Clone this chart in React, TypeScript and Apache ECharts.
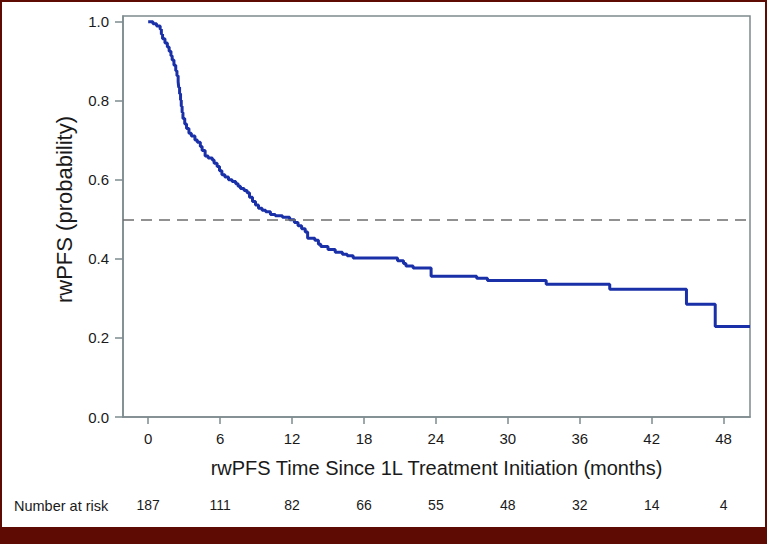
import React, { useEffect, useRef } from "react";
import * as echarts from "echarts";

// Kaplan-Meier step data (months, survival probability)
const months = [
  0, 0.4, 0.7, 1.0, 1.1, 1.2, 1.4, 1.6, 1.75, 1.9, 2.0, 2.15, 2.3, 2.4, 2.5, 2.55, 2.62, 2.7, 2.76, 2.83,
  2.9, 3.05, 3.2, 3.4, 3.6, 3.9, 4.1, 4.35, 4.5, 4.75, 5.0, 5.35, 5.5, 5.75, 5.95, 6.15, 6.4, 6.7, 7.0,
  7.3, 7.5, 7.7, 8.0, 8.25, 8.45, 8.7, 8.95, 9.2, 9.5, 9.8, 10.2, 10.6, 11.2, 11.8, 12.2, 12.5, 12.8,
  13.1, 13.3, 13.9, 14.2, 14.4, 15.0, 15.6, 16.2, 16.6, 17.1, 20.8, 21.3, 21.5, 22.1, 23.6, 27.4, 28.3,
  33.2, 38.5, 44.9, 47.3, 50.2,
];
const survival = [
  1.0, 0.995, 0.989, 0.981, 0.968, 0.957, 0.946, 0.936, 0.925, 0.914, 0.903, 0.89, 0.876, 0.863, 0.848,
  0.834, 0.818, 0.802, 0.786, 0.77, 0.755, 0.741, 0.73, 0.718, 0.711, 0.701, 0.695, 0.684, 0.674, 0.66,
  0.655, 0.65, 0.642, 0.634, 0.623, 0.613, 0.607, 0.6, 0.596, 0.59, 0.584, 0.578, 0.573, 0.567, 0.556,
  0.545, 0.536, 0.528, 0.523, 0.519, 0.512, 0.509, 0.505, 0.499, 0.492, 0.484, 0.476, 0.468, 0.452,
  0.447, 0.437, 0.431, 0.424, 0.417, 0.412, 0.408, 0.402, 0.395, 0.388, 0.382, 0.377, 0.356, 0.351,
  0.345, 0.336, 0.323, 0.285, 0.229, 0.229,
];
const xTicks = [0, 6, 12, 18, 24, 30, 36, 42, 48];
const yTicks = [0, 0.2, 0.4, 0.6, 0.8, 1.0];
const atRisk = [187, 111, 82, 66, 55, 48, 32, 14, 4];
const medianLine = 0.5;

const AXIS = "#7d8b8f";
const FONT = "'Liberation Sans', Arial, sans-serif";

export default function App() {
  const ref = useRef<HTMLDivElement>(null);
  useEffect(() => {
    if (!ref.current) return;
    const chart = echarts.init(ref.current, undefined, { renderer: "svg" });
    const data = months.map((m, i) => [m, survival[i]]);
    chart.setOption({
      animation: false,
      backgroundColor: "#ffffff",
      grid: {
        left: 121,
        top: 14,
        right: 15,
        bottom: 110,
        show: true,
        borderColor: AXIS,
        borderWidth: 1.5,
        containLabel: false,
      },
      xAxis: [
        {
          type: "value",
          position: "bottom",
          min: -2.1,
          max: 50.2,
          axisLine: { show: true, onZero: false, lineStyle: { color: AXIS, width: 1.5 } },
          axisTick: { show: true, length: 7, customValues: xTicks, lineStyle: { color: AXIS, width: 1.5 } },
          axisLabel: {
            customValues: xTicks,
            margin: 14,
            fontSize: 15,
            fontFamily: FONT,
            color: "#1a1a1a",
            formatter: (v: number) => String(v),
          },
          splitLine: { show: false },
          name: "rwPFS Time Since 1L Treatment Initiation (months)",
          nameLocation: "middle",
          nameGap: 41,
          nameTextStyle: { fontSize: 20, fontFamily: FONT, color: "#1a1a1a" },
        },
        {
          type: "value",
          position: "bottom",
          min: -2.1,
          max: 50.2,
          axisLine: { show: false, onZero: false },
          axisTick: { show: false },
          splitLine: { show: false },
          axisLabel: {
            customValues: xTicks,
            margin: 81,
            fontSize: 14,
            fontFamily: FONT,
            color: "#1a1a1a",
            formatter: (v: number) => {
              const i = xTicks.indexOf(v);
              return i >= 0 ? String(atRisk[i]) : "";
            },
          },
        },
      ],
      yAxis: {
        type: "value",
        min: 0,
        max: 1.0144,
        axisLine: { show: true, onZero: false, lineStyle: { color: AXIS, width: 1.5 } },
        axisTick: { show: true, length: 8, customValues: yTicks, lineStyle: { color: AXIS, width: 1.5 } },
        axisLabel: {
          customValues: yTicks,
          margin: 14,
          fontSize: 15,
          fontFamily: FONT,
          color: "#1a1a1a",
          formatter: (v: number) => v.toFixed(1),
        },
        splitLine: { show: false },
        name: "rwPFS (probability)",
        nameLocation: "middle",
        nameGap: 48,
        nameTextStyle: { fontSize: 22, fontFamily: FONT, color: "#1a1a1a", padding: [0, 0, 0, 14] },
      },
      graphic: [
        {
          type: "text",
          left: 12,
          top: 496,
          style: { text: "Number at risk", fontSize: 14.5, fontFamily: FONT, fill: "#1a1a1a" },
        },
      ],
      series: [
        {
          type: "line",
          step: "end",
          data,
          showSymbol: false,
          symbol: "none",
          lineStyle: { color: "#1a30a8", width: 3 },
          z: 3,
          markLine: {
            silent: true,
            symbol: "none",
            label: { show: false },
            lineStyle: { color: "#6e6e6e", type: [11, 7], width: 1.5 },
            data: [{ yAxis: medianLine }],
          },
        },
      ],
    });
    return () => chart.dispose();
  }, []);

  return (
    <div
      style={{
        position: "absolute",
        left: 0,
        top: 0,
        width: 767,
        height: 544,
        background: "#5e0b03",
      }}
    >
      <div
        ref={ref}
        style={{ position: "absolute", left: 2, top: 2, width: 763, height: 525, background: "#fff" }}
      />
    </div>
  );
}
